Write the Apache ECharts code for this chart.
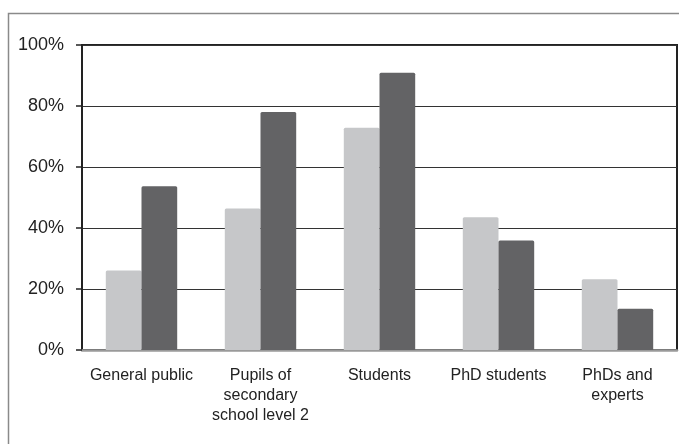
<!DOCTYPE html>
<html>
<head>
<meta charset="utf-8">
<script src="https://cdn.jsdelivr.net/npm/echarts@6/dist/echarts.min.js"></script>
<style>
html,body{margin:0;padding:0;background:#fff;}
#c{width:679px;height:444px;}
</style>
</head>
<body>
<div id="c"></div>
<script>
const categories = ['General public', 'Pupils of\nsecondary\nschool level 2', 'Students', 'PhD students', 'PhDs and\nexperts'];
const lightValues = [26.1, 46.4, 72.9, 43.5, 23.2];
const darkValues = [53.7, 78.0, 90.9, 35.9, 13.5];
const yTicks = [0, 20, 40, 60, 80, 100];

const chart = echarts.init(document.getElementById('c'));
chart.setOption({
  animation: false,
  backgroundColor: '#fff',
  graphic: [{
    type: 'rect',
    shape: { x: 8.5, y: 13.5, width: 700, height: 460 },
    style: { fill: 'none', stroke: '#8a8a8a', lineWidth: 1.5 },
    z: 100
  }],
  grid: {
    left: 82, right: 2, top: 45, bottom: 94,
    show: true, borderColor: '#222', borderWidth: 2, backgroundColor: 'transparent'
  },
  xAxis: {
    type: 'category',
    data: categories,
    axisLine: { lineStyle: { color: '#9a9a9a', width: 2.5 } },
    axisTick: { show: false },
    axisLabel: {
      fontFamily: 'Liberation Sans', fontSize: 16, color: '#222',
      lineHeight: 20, margin: 16, interval: 0
    }
  },
  yAxis: {
    type: 'value',
    min: yTicks[0], max: yTicks[yTicks.length - 1], interval: 20,
    axisLine: { show: true, lineStyle: { color: '#222', width: 2 } },
    axisTick: { show: true, length: 6, lineStyle: { color: '#222', width: 1.5 } },
    splitLine: { lineStyle: { color: '#333', width: 1 } },
    axisLabel: {
      formatter: '{value}%', fontFamily: 'Liberation Sans', fontSize: 18,
      color: '#222', margin: 18
    }
  },
  series: [
    {
      name: 'Series 1', type: 'bar', data: lightValues,
      barWidth: '30%', barGap: '0%',
      itemStyle: { color: '#c6c7c9', borderRadius: [1.5, 1.5, 0, 0] }
    },
    {
      name: 'Series 2', type: 'bar', data: darkValues,
      barWidth: '30%', barGap: '0%',
      itemStyle: { color: '#636365', borderRadius: [1.5, 1.5, 0, 0] }
    }
  ]
});
</script>
</body>
</html>
